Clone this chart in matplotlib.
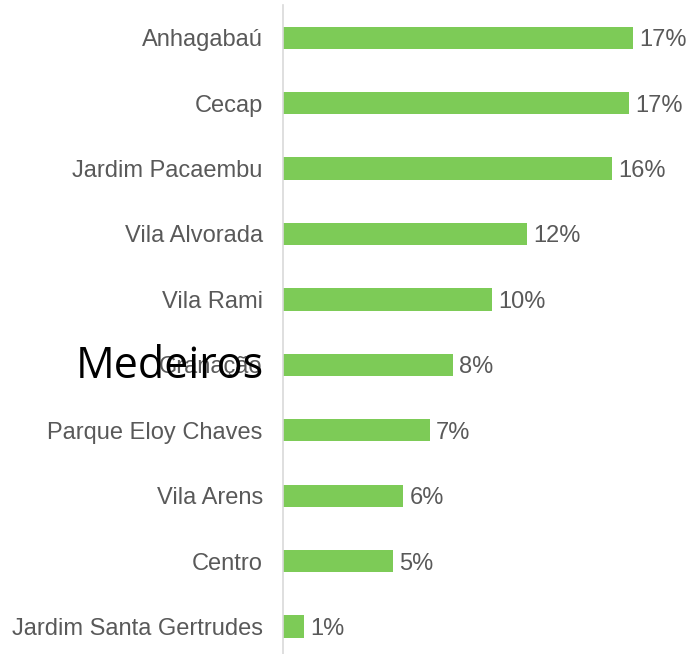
import matplotlib
matplotlib.use("Agg")
import matplotlib.pyplot as plt

# data, top to bottom
bairros = ["Anhagabaú", "Cecap", "Jardim Pacaembu", "Vila Alvorada", "Vila Rami",
           "Granação", "Parque Eloy Chaves", "Vila Arens", "Centro",
           "Jardim Santa Gertrudes"]
valores = [16.9, 16.7, 15.9, 11.8, 10.1, 8.2, 7.1, 5.8, 5.3, 1.0]
rotulos = ["17%", "17%", "16%", "12%", "10%", "8%", "7%", "6%", "5%", "1%"]

C_BAR = "#7dcb57"
C_TXT = "#595959"

W, H = 690, 654
fig = plt.figure(figsize=(W / 100, H / 100), dpi=100)
ax = fig.add_axes([283 / W, 0, 407 / W, 649 / H])

pos = list(range(len(bairros)))
ax.barh(pos, valores, height=0.34, color=C_BAR)
ax.set_ylim(9.42, -0.5)
ax.set_xlim(0, 407 / 20.7)

for y, v, r in zip(pos, valores, rotulos):
    ax.text(v + 0.3, y, r, va="center_baseline", ha="left", fontsize=17,
            color=C_TXT, family="Liberation Sans")

ax.set_yticks(pos)
ax.set_yticklabels(bairros, fontsize=17, color=C_TXT, family="Liberation Sans",
                   va="center_baseline")
ax.tick_params(axis="y", length=0, pad=14.5)
ax.set_xticks([])
for s in ["top", "right", "bottom"]:
    ax.spines[s].set_visible(False)
ax.spines["left"].set_color("#d9d9d9")
ax.spines["left"].set_linewidth(1.2)

# overlay text
fig.text(264 / W, 1 - 367 / H, "Medeiros", ha="right", va="center",
         fontsize=31, color="black", family="Open Sans")

fig.savefig("out.png", dpi=100, facecolor="white")
